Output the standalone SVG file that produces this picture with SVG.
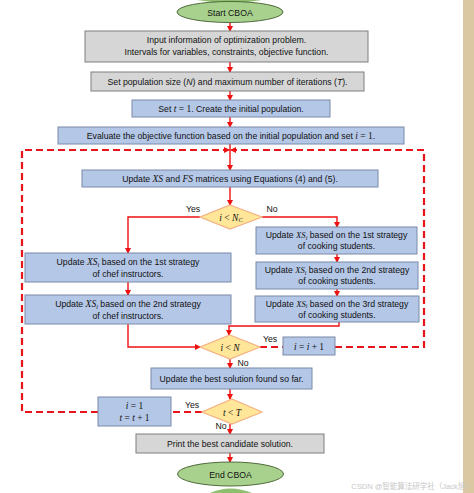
<svg xmlns="http://www.w3.org/2000/svg" width="474" height="493" viewBox="0 0 474 493">
<style>
  .t{font-family:"Liberation Sans",Arial,sans-serif;font-size:8.7px;fill:#111;text-anchor:middle}
  .mt{font-family:"Liberation Serif","Times New Roman",serif;font-size:9.5px;fill:#111;text-anchor:middle}
  .m{font-family:"Liberation Serif","Times New Roman",serif;font-style:italic}
  .gray{fill:#d6d6d6;stroke:#7f7f7f;stroke-width:1}
  .blue{fill:#b4c7e7;stroke:#7a8aa8;stroke-width:1}
  .dia{fill:#ffe699;stroke:#f4b183;stroke-width:1.2}
  .ell{fill:#a9d18e;stroke:#4f6a3c;stroke-width:1}
  .ln{fill:none;stroke:#ee1111;stroke-width:1.4}
  .dash{fill:none;stroke:#e8141c;stroke-width:2.2;stroke-dasharray:7 4}
  .lbl{font-family:"Liberation Sans",Arial,sans-serif;font-size:8.7px;fill:#111;text-anchor:middle}
</style>
<defs>
  <marker id="ah" markerWidth="6" markerHeight="6" refX="5" refY="3" orient="auto" markerUnits="userSpaceOnUse">
    <path d="M0,0 L6,3 L0,6 Z" fill="#ee1111"/>
  </marker>
</defs>
<rect x="463" y="0" width="11" height="493" fill="#dac8a2"/>
<path d="M197,0 Q230,6 262,0 Z" fill="#8fbf6e"/>
<path d="M210,493 Q230,484 252,493 Z" fill="#8fbf6e"/>

<g id="connectors">
  <line class="ln" x1="230" y1="22" x2="230" y2="31" marker-end="url(#ah)"/>
  <line class="ln" x1="230" y1="62" x2="230" y2="72" marker-end="url(#ah)"/>
  <line class="ln" x1="230" y1="91" x2="230" y2="100" marker-end="url(#ah)"/>
  <line class="ln" x1="230" y1="117" x2="230" y2="127" marker-end="url(#ah)"/>
  <line class="ln" x1="230" y1="144" x2="230" y2="170" marker-end="url(#ah)"/>
  <line class="ln" x1="230" y1="187" x2="230" y2="205" marker-end="url(#ah)"/>
  <polyline class="ln" points="200,217 128,217 128,253" marker-end="url(#ah)"/>
  <polyline class="ln" points="262,217 337,217 337,227" marker-end="url(#ah)"/>
  <line class="ln" x1="128" y1="282" x2="128" y2="295" marker-end="url(#ah)"/>
  <line class="ln" x1="337" y1="254" x2="337" y2="262" marker-end="url(#ah)"/>
  <line class="ln" x1="337" y1="289" x2="337" y2="296" marker-end="url(#ah)"/>
  <polyline class="ln" points="339,322 339,326 229,326 229,335" marker-end="url(#ah)"/>
  <polyline class="ln" points="128,324 128,347 200,347" marker-end="url(#ah)"/>
  <line class="ln" x1="230" y1="359" x2="230" y2="368" marker-end="url(#ah)"/>
  <line class="ln" x1="230" y1="389" x2="230" y2="399" marker-end="url(#ah)"/>
  <line class="ln" x1="230" y1="424" x2="230" y2="434" marker-end="url(#ah)"/>
  <line class="ln" x1="230" y1="453" x2="230" y2="462" marker-end="url(#ah)"/>
  <line class="dash" x1="260" y1="347" x2="283" y2="347"/>
  <polyline class="dash" points="335,347 424,347 424,150 234,150"/>
  <line class="ln" x1="236" y1="150" x2="231" y2="150" marker-end="url(#ah)"/>
  <line class="dash" x1="202" y1="412" x2="171" y2="412"/>
  <polyline class="dash" points="98,412 22,412 22,150 226,150"/>
  <line class="ln" x1="224" y1="150" x2="229" y2="150" marker-end="url(#ah)"/>
  <text class="lbl" x="193" y="212">Yes</text>
  <text class="lbl" x="272" y="212">No</text>
  <text class="lbl" x="270" y="342">Yes</text>
  <text class="lbl" x="243" y="366">No</text>
  <text class="lbl" x="192" y="408">Yes</text>
  <text class="lbl" x="221" y="429">No</text>
</g>

<g id="start">
  <ellipse class="ell" cx="230" cy="12" rx="53" ry="10.5"/>
  <text class="t" x="230" y="15.5">Start CBOA</text>
</g>
<g id="input">
  <rect class="gray" x="85" y="31" width="283" height="31"/>
  <text class="t" x="226.5" y="43">Input information of optimization problem.</text>
  <text class="t" x="226.5" y="55">Intervals for variables, constraints, objective function.</text>
</g>
<g id="setpop">
  <rect class="gray" x="91" y="72" width="273" height="19"/>
  <text class="t" x="227.5" y="84.5">Set population size (<tspan font-style="italic">N</tspan>) and maximum number of iterations (<tspan font-style="italic">T</tspan>).</text>
</g>
<g id="init">
  <rect class="blue" x="132" y="100" width="198" height="17"/>
  <text class="t" x="231" y="111.5">Set <tspan class="m" font-size="9.5">t</tspan><tspan font-family="Liberation Serif" font-size="9.5"> = 1</tspan>. Create the initial population.</text>
</g>
<g id="evaluate">
  <rect class="blue" x="58" y="127" width="346" height="17"/>
  <text class="t" x="231" y="138.5">Evaluate the objective function based on the initial population and set <tspan class="m" font-size="9.5">i</tspan><tspan font-family="Liberation Serif" font-size="9.5"> = 1</tspan>.</text>
</g>
<g id="updatexs">
  <rect class="blue" x="82" y="170" width="296" height="17"/>
  <text class="t" x="230" y="181.5">Update <tspan class="m" font-size="9.5">XS</tspan> and <tspan class="m" font-size="9.5">FS</tspan> matrices using Equations (4) and (5).</text>
</g>
<g id="d1">
  <polygon class="dia" points="230,205 262,217 230,229 200,217"/>
  <text class="mt" x="231" y="220.5"><tspan class="m">i</tspan> &lt; <tspan class="m">N</tspan><tspan class="m" font-size="6.5" dy="1.5">C</tspan></text>
</g>
<g id="chef1">
  <rect class="blue" x="25" y="253" width="206" height="29"/>
  <text class="t" x="128" y="265">Update <tspan class="m" font-size="9.5">XS</tspan><tspan class="m" font-size="6.5" dy="1.5">i</tspan><tspan dy="-1.5"> based on the 1st strategy</tspan></text>
  <text class="t" x="128" y="277">of chef instructors.</text>
</g>
<g id="chef2">
  <rect class="blue" x="25" y="295" width="206" height="29"/>
  <text class="t" x="128" y="307">Update <tspan class="m" font-size="9.5">XS</tspan><tspan class="m" font-size="6.5" dy="1.5">i</tspan><tspan dy="-1.5"> based on the 2nd strategy</tspan></text>
  <text class="t" x="128" y="319">of chef instructors.</text>
</g>
<g id="stu1">
  <rect class="blue" x="256" y="227" width="161" height="27"/>
  <text class="t" x="336.5" y="238" font-size="7.8">Update <tspan class="m" font-size="8.6">XS</tspan><tspan class="m" font-size="6" dy="1.5">i</tspan><tspan dy="-1.5"> based on the 1st strategy</tspan></text>
  <text class="t" x="336.5" y="249" font-size="7.8">of cooking students.</text>
</g>
<g id="stu2">
  <rect class="blue" x="256" y="262" width="162" height="27"/>
  <text class="t" x="337" y="273" font-size="7.8">Update <tspan class="m" font-size="8.6">XS</tspan><tspan class="m" font-size="6" dy="1.5">i</tspan><tspan dy="-1.5"> based on the 2nd strategy</tspan></text>
  <text class="t" x="337" y="284" font-size="7.8">of cooking students.</text>
</g>
<g id="stu3">
  <rect class="blue" x="255" y="296" width="164" height="26"/>
  <text class="t" x="337" y="306.5" font-size="7.8">Update <tspan class="m" font-size="8.6">XS</tspan><tspan class="m" font-size="6" dy="1.5">i</tspan><tspan dy="-1.5"> based on the 3rd strategy</tspan></text>
  <text class="t" x="337" y="317.5" font-size="7.8">of cooking students.</text>
</g>
<g id="d2">
  <polygon class="dia" points="230,335 260,347 230,359 200,347"/>
  <text class="mt" x="230" y="350.5"><tspan class="m">i</tspan> &lt; <tspan class="m">N</tspan></text>
</g>
<g id="incr">
  <rect class="blue" x="283" y="337" width="52" height="18"/>
  <text class="mt" x="309" y="349.5"><tspan class="m">i</tspan> = <tspan class="m">i</tspan> + 1</text>
</g>
<g id="best">
  <rect class="blue" x="151" y="368" width="161" height="21"/>
  <text class="t" x="231.5" y="381.5">Update the best solution found so far.</text>
</g>
<g id="d3">
  <polygon class="dia" points="232,399 262,412 232,424 202,412"/>
  <text class="mt" x="232" y="415.5"><tspan class="m">t</tspan> &lt; <tspan class="m">T</tspan></text>
</g>
<g id="reset">
  <rect class="blue" x="98" y="397" width="73" height="29"/>
  <text class="mt" x="134.5" y="408.5"><tspan class="m">i</tspan> = 1</text>
  <text class="mt" x="134.5" y="420.5"><tspan class="m">t</tspan> = <tspan class="m">t</tspan> + 1</text>
</g>
<g id="print">
  <rect class="gray" x="136" y="434" width="188" height="19"/>
  <text class="t" x="230" y="446.5">Print the best candidate solution.</text>
</g>
<g id="end">
  <ellipse class="ell" cx="230.5" cy="474" rx="53" ry="12"/>
  <text class="t" x="230.5" y="477.5">End CBOA</text>
</g>
<text x="412" y="489" font-family="'Liberation Sans','Noto Sans CJK SC',sans-serif" font-size="7.5" fill="#c8c8c8" text-anchor="middle">CSDN @智能算法研学社（Jack旭）</text>
</svg>
